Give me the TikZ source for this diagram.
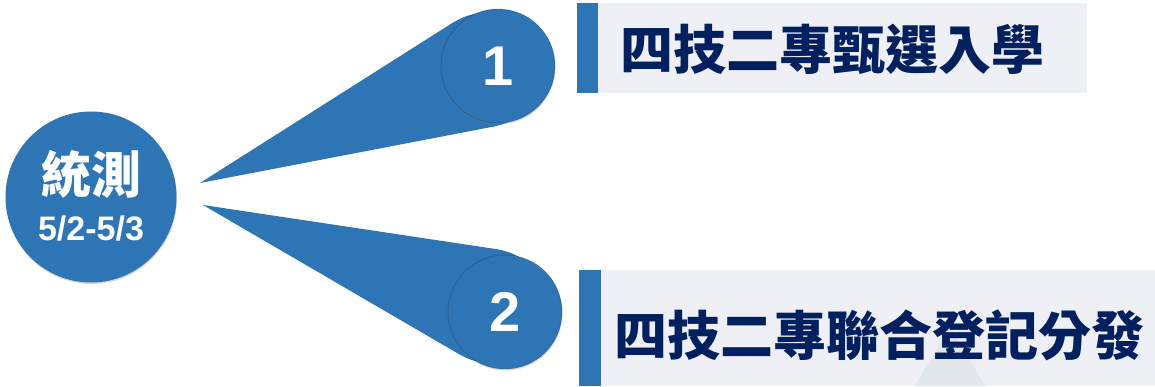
\documentclass[tikz,border=0pt]{standalone}
\usepackage{fontspec}
\setmainfont{Liberation Sans}
\newfontfamily\cjk{Noto Sans CJK TC}
\usetikzlibrary{calc,shadows}
\definecolor{mainblue}{HTML}{2E75B6}
\definecolor{navy}{HTML}{002060}
\definecolor{boxgray}{HTML}{EEF0F5}
\definecolor{faintgray}{HTML}{E2E7EC}
\tikzset{
  bubble/.style={circle,fill=mainblue,inner sep=0pt,text=white},
  softshadow/.style={drop shadow={shadow xshift=0.5pt,shadow yshift=-1.5pt,opacity=0.3}},
  numbub/.style={bubble,softshadow,draw=black,draw opacity=0.18,line width=0.8pt,minimum size=114pt,font=\bfseries\fontsize{56}{56}\selectfont},
  coneend/.style={circle,fill=mainblue,inner sep=0pt,minimum size=114pt},
  bar/.style={fill=mainblue},
  panel/.style={fill=boxgray},
  title/.style={text=navy,font=\cjk\bfseries\fontsize{53}{53}\selectfont,anchor=west,inner sep=0pt}
}
\begin{document}
\begin{tikzpicture}[x=1pt,y=-1pt]
        \useasboundingbox (0,0) rectangle (1155,386);
        \fill[panel] (598,3) rectangle (1087,93);
        \fill[bar] (577,3) rectangle (598,93);
        \fill[panel] (601,270) rectangle (1155,386);
        \fill[faintgray] (915,386) -- (950,326) -- (985,386) -- cycle;
        \fill[bar] (579,270) rectangle (601,386);
        \node[title] (entry) at (620,49) {四技二專甄選入學};
        \node[title] (placement) at (614,335) {四技二專聯合登記分發};
        \node[bubble,softshadow,minimum size=171pt] (exam) at (91,197) {};
        \node[text=white,font=\cjk\bfseries\fontsize{50}{50}\selectfont] (examname) at (91,174) {統測};
        \node[text=white,font=\bfseries\fontsize{34}{34}\selectfont] (examdate) at (91,229) {5/2-5/3};
        \foreach \i/\ax/\ay/\ex/\ey/\nx/\ny in {1/200/183/485/70/498/66, 2/203/205/490/306/505/312}{
            \coordinate (tip\i) at (\ax,\ay);
            \node[coneend] (end\i) at (\ex,\ey) {};
            \fill[mainblue] (tip\i) -- (tangent cs:node=end\i,point={(tip\i)},solution=1)
                -- (tangent cs:node=end\i,point={(tip\i)},solution=2) -- cycle;
            \node[numbub] (step\i) at (\nx,\ny) {\i};
        }
    \end{tikzpicture}
\end{document}
